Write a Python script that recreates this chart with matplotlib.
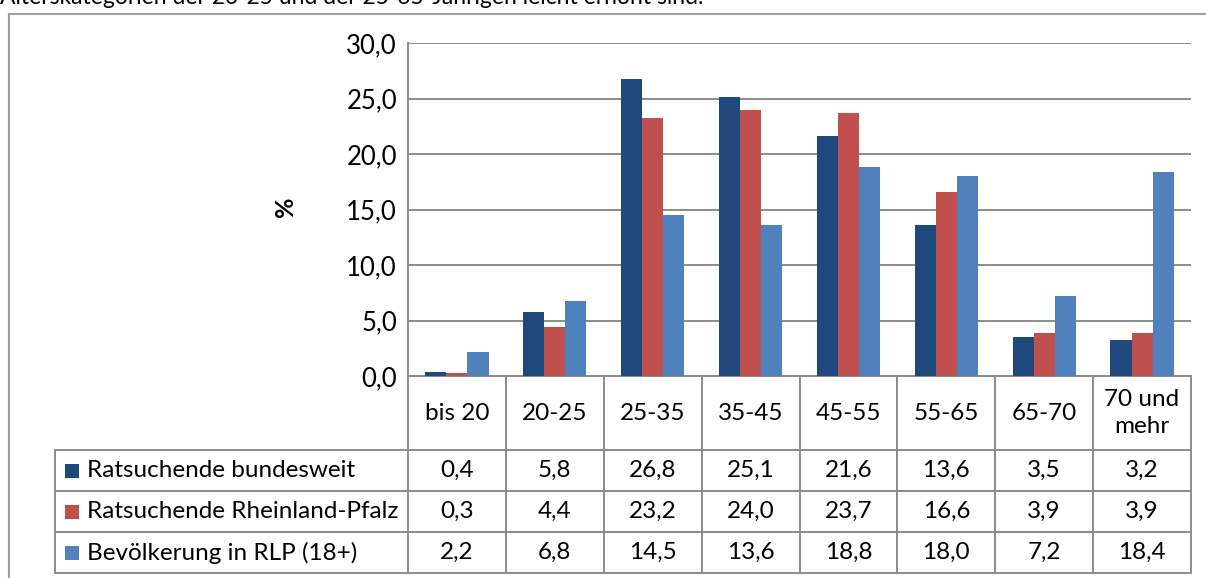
import matplotlib.pyplot as plt
from matplotlib.lines import Line2D
from matplotlib.patches import Rectangle
import numpy as np

plt.rcParams["font.family"] = ["Lato", "DejaVu Sans"]

categories = ["bis 20", "20-25", "25-35", "35-45", "45-55", "55-65", "65-70", "70 und\nmehr"]
series_names = ["Ratsuchende bundesweit", "Ratsuchende Rheinland-Pfalz", "Bevölkerung in RLP (18+)"]
bund = [0.4, 5.8, 26.8, 25.1, 21.6, 13.6, 3.5, 3.2]
rlp = [0.3, 4.4, 23.2, 24.0, 23.7, 16.6, 3.9, 3.9]
bevoelkerung = [2.2, 6.8, 14.5, 13.6, 18.8, 18.0, 7.2, 18.4]
colors = ["#1F497D", "#C0504D", "#4F81BD"]
yticks = [0, 5, 10, 15, 20, 25, 30]

intro = "Alterskategorien der 20-25 und der 25-35-Jährigen leicht erhöht sind."

FS = 17.5
W, H = 1206, 578
fig = plt.figure(figsize=(W / 100, H / 100), dpi=100)

# chart area in pixels: left, right, top, bottom
px_l, px_r, px_t, px_b = 408, 1191, 43, 376
ax = fig.add_axes([px_l / W, (H - px_b) / H, (px_r - px_l) / W, (px_b - px_t) / H])
aw, ah = px_r - px_l, px_b - px_t

grid_col = "#8C8C8C"
x = np.arange(len(categories))
bw = 0.215
for i, vals in enumerate([bund, rlp, bevoelkerung]):
    ax.bar(x + (i - 1) * bw, vals, width=bw, color=colors[i], zorder=3)

ax.set_xlim(-0.5, len(categories) - 0.5)
ax.set_ylim(0, 30)
ax.set_yticks(yticks)
ax.set_yticklabels([f"{v:.1f}".replace(".", ",") for v in yticks], fontsize=18.5)
ax.tick_params(axis="y", length=0, pad=8)
ax.set_xticks([])
ax.grid(axis="y", color=grid_col, linewidth=1.4, zorder=0)
for side in ["top", "right"]:
    ax.spines[side].set_visible(False)
for side in ["left", "bottom"]:
    ax.spines[side].set_color(grid_col)
    ax.spines[side].set_linewidth(1.4)

ax.text((286 - px_l) / aw, (px_b - 207) / ah, "%",
        rotation=90, fontsize=18, fontweight="bold", ha="center", va="center",
        transform=ax.transAxes)

# data table under the chart
fmt = lambda v: f"{v:.1f}".replace(".", ",")
rows = [[name] + [fmt(v) for v in vals]
        for name, vals in zip(series_names, [bund, rlp, bevoelkerung])]

tab_left, tab_bottom = 55, 573
head_h, row_h = 74, 41
label_w = px_l - tab_left
col_w = aw / len(categories)

tbl = ax.table(cellText=rows, colLabels=[""] + categories,
               colWidths=[label_w] + [col_w] * len(categories),
               cellLoc="center",
               bbox=[(tab_left - px_l) / aw, (px_b - tab_bottom) / ah,
                     (px_r - tab_left) / aw, (tab_bottom - px_b) / ah])
tbl.auto_set_font_size(False)
tbl.set_fontsize(FS)
for (r, c), cell in tbl.get_celld().items():
    cell.set_edgecolor(grid_col)
    cell.set_linewidth(1.4)
    cell.set_height(head_h if r == 0 else row_h)
    cell.get_text().set_linespacing(1.4)
    if r == 0 and c == 0:
        cell.visible_edges = "open"
    if c == 0 and r > 0:
        cell.get_text().set_ha("left")
        cell._loc = "left"
        cell.PAD = (87 - tab_left) / label_w

# legend keys in the label column
for i, col in enumerate(colors):
    cy = px_b + head_h + row_h * (i + 0.5)
    ax.add_patch(Rectangle(((65 - px_l) / aw, (px_b - cy - 7) / ah), 14 / aw, 14 / ah,
                           facecolor=col, edgecolor="none",
                           transform=ax.transAxes, clip_on=False))

# frame and the clipped paragraph above it
frame = "#A0A0A0"
fig.add_artist(Line2D([9 / W, 9 / W], [0, 1 - 14 / H], color=frame, lw=1.5,
                      transform=fig.transFigure))
fig.add_artist(Line2D([9 / W, 1], [1 - 14 / H, 1 - 14 / H], color=frame, lw=1.5,
                      transform=fig.transFigure))
fig.text(0.0, 1 - 4 / H, intro, fontsize=16.5, va="baseline", ha="left")

fig.savefig("out.png", dpi=100)
